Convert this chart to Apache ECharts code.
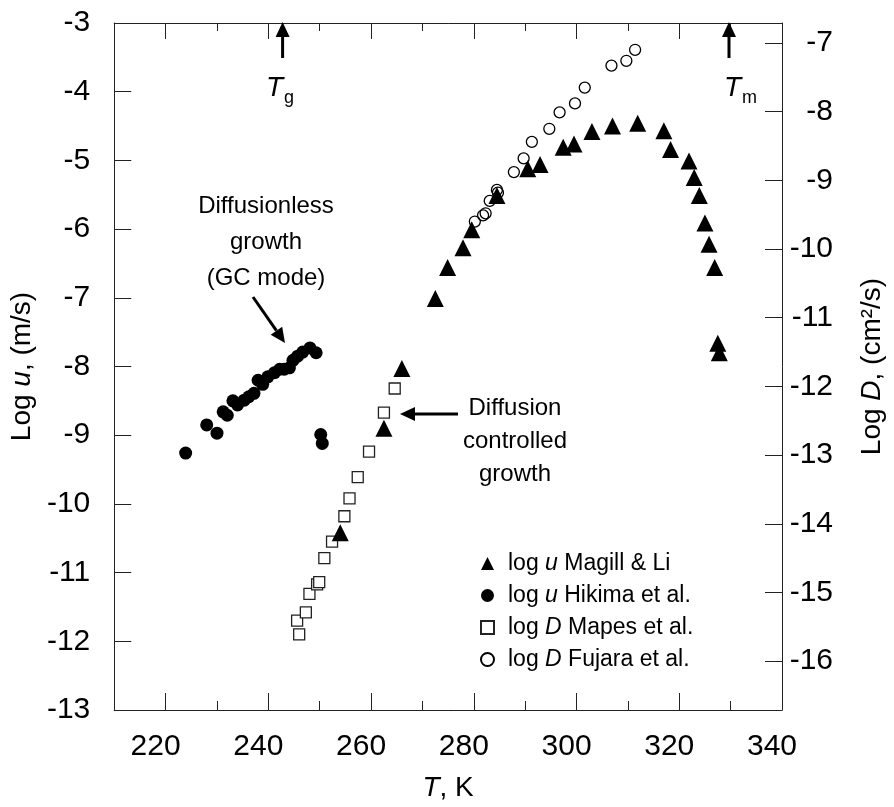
<!DOCTYPE html>
<html>
<head>
<meta charset="utf-8">
<script src="https://cdn.jsdelivr.net/npm/echarts@6/dist/echarts.min.js"></script>
<style>
  html, body { margin: 0; padding: 0; background: #fff; }
  #chart { width: 894px; height: 807px; }
</style>
</head>
<body>
<div id="chart"></div>
<script>
// log u (m/s) – Magill & Li
const magillT = [254.0, 262.5, 266.0, 272.5, 274.9, 277.9, 279.6, 284.5, 290.5, 292.9, 297.4, 299.5, 303.0, 307.0, 311.9, 317.0, 318.3, 321.9, 322.9, 323.9, 325.0, 325.8, 326.9, 327.5, 327.8]
const magillU = [-10.42, -8.90, -8.03, -7.01, -6.56, -6.27, -6.01, -5.51, -5.12, -5.06, -4.81, -4.76, -4.58, -4.50, -4.46, -4.57, -4.84, -5.01, -5.25, -5.51, -5.91, -6.22, -6.56, -7.66, -7.80]

// log u (m/s) – Hikima et al.
const hikimaT = [223.9, 228.0, 230.0, 231.2, 232.0, 233.1, 234.0, 235.3, 236.2, 237.2, 238.0, 238.9, 239.9, 241.2, 242.2, 243.1, 244.1, 244.8, 245.7, 246.7, 248.1, 249.3, 250.2, 250.5]
const hikimaU = [-9.26, -8.85, -8.97, -8.66, -8.71, -8.50, -8.56, -8.49, -8.44, -8.39, -8.20, -8.26, -8.15, -8.09, -8.04, -8.04, -8.02, -7.91, -7.85, -7.79, -7.73, -7.80, -8.99, -9.12]

// log D (cm2/s) – Mapes et al.
const mapesT = [245.6, 246.0, 247.3, 248.0, 249.5, 249.9, 250.9, 252.4, 254.8, 255.8, 257.4, 259.6, 262.5, 264.6]
const mapesD = [-15.41, -15.61, -15.29, -15.02, -14.88, -14.85, -14.50, -14.26, -13.89, -13.63, -13.32, -12.95, -12.38, -12.03]

// log D (cm2/s) – Fujara et al.
const fujaraT = [280.2, 281.8, 282.3, 283.1, 284.5, 284.7, 287.8, 289.7, 291.3, 294.7, 296.7, 299.7, 301.6, 306.8, 309.7, 311.4]
const fujaraD = [-9.60, -9.51, -9.48, -9.30, -9.14, -9.18, -8.88, -8.68, -8.44, -8.25, -8.01, -7.88, -7.65, -7.33, -7.26, -7.10]

// axis ticks
const xLabels = [220, 240, 260, 280, 300, 320, 340]
const xMinorTicks = [230, 250, 270, 290, 310, 330]
const uTicks = [-13, -12, -11, -10, -9, -8, -7, -6, -5, -4, -3]
const dTicks = [-16, -15, -14, -13, -12, -11, -10, -9, -8, -7]

const legendNames = ['Magill & Li', 'Hikima et al.', 'Mapes et al.', 'Fujara et al.']
const legendVar = ['u', 'u', 'D', 'D']

const font = '"Liberation Sans", Arial, sans-serif'
const ink = '#000'
const frame = '#222'

const pairs = (xs, ys) => xs.map((x, i) => [x, ys[i]])

const chart = echarts.init(document.getElementById('chart'))

// x axes: one with long ticks + labels, one with short ticks (bottom and top)
const xAxisBase = {
  type: 'value',
  min: 210,
  max: 340,
  splitLine: { show: false },
  axisLine: { show: false }
}
const xAxes = [
  {
    ...xAxisBase,
    position: 'bottom',
    axisLine: { show: true, onZero: false, lineStyle: { color: frame, width: 1 } },
    axisTick: { inside: true, length: 17, customValues: xLabels, lineStyle: { color: frame } },
    axisLabel: {
      customValues: xLabels,
      fontSize: 30, fontFamily: font, color: ink,
      margin: 22, padding: [0, 20, 0, 0]
    },
    name: '{i|T}, K',
    nameLocation: 'middle',
    nameGap: 64,
    nameTextStyle: {
      fontSize: 28, fontFamily: font, color: ink,
      rich: { i: { fontSize: 28, fontFamily: font, fontStyle: 'italic', color: ink } }
    }
  },
  {
    ...xAxisBase,
    position: 'bottom',
    axisTick: { inside: true, length: 9, customValues: xMinorTicks, lineStyle: { color: frame } },
    axisLabel: { show: false }
  },
  {
    ...xAxisBase,
    position: 'top',
    axisLine: { show: true, onZero: false, lineStyle: { color: frame, width: 1 } },
    axisTick: { inside: true, length: 16, customValues: xLabels, lineStyle: { color: frame } },
    axisLabel: { show: false }
  },
  {
    ...xAxisBase,
    position: 'top',
    axisTick: { inside: true, length: 8, customValues: xMinorTicks, lineStyle: { color: frame } },
    axisLabel: { show: false }
  }
]

const yAxes = [
  {
    type: 'value',
    position: 'left',
    min: -13,
    max: -3,
    interval: 1,
    splitLine: { show: false },
    axisLine: { show: true, onZero: false, lineStyle: { color: frame, width: 1 } },
    axisTick: { inside: true, length: 17, customValues: uTicks, lineStyle: { color: frame } },
    axisLabel: { customValues: uTicks, fontSize: 30, fontFamily: font, color: ink, margin: 24 },
    name: '{n|Log }{i|u}{n|, (m/s)}',
    nameLocation: 'middle',
    nameRotate: 90,
    nameGap: 68,
    nameTextStyle: {
      fontSize: 28, fontFamily: font, color: ink,
      rich: {
        n: { fontSize: 28, fontFamily: font, color: ink },
        i: { fontSize: 28, fontFamily: font, fontStyle: 'italic', color: ink }
      }
    }
  },
  {
    type: 'value',
    position: 'right',
    min: -16.71,
    max: -6.71,
    splitLine: { show: false },
    axisLine: { show: true, onZero: false, lineStyle: { color: frame, width: 1 } },
    axisTick: { inside: true, length: 17, customValues: dTicks, lineStyle: { color: frame } },
    axisLabel: { customValues: dTicks, fontSize: 30, fontFamily: font, color: ink, margin: 51, align: 'right' },
    name: '{n|Log }{i|D}{n|, (cm²/s)}',
    nameLocation: 'middle',
    nameRotate: 90,
    nameGap: 76,
    nameTextStyle: {
      fontSize: 28, fontFamily: font, color: ink,
      rich: {
        n: { fontSize: 28, fontFamily: font, color: ink },
        i: { fontSize: 28, fontFamily: font, fontStyle: 'italic', color: ink }
      }
    }
  }
]

// arrow = shaft line + solid head, pixel coords
function arrow (x1, y1, x2, y2, head = 15, half = 7) {
  const len = Math.hypot(x2 - x1, y2 - y1)
  const ux = (x2 - x1) / len
  const uy = (y2 - y1) / len
  const bx = x2 - ux * head
  const by = y2 - uy * head
  return [
    { type: 'line', shape: { x1, y1, x2: bx, y2: by }, style: { stroke: ink, lineWidth: 3 }, z: 100 },
    {
      type: 'polygon',
      shape: { points: [[x2, y2], [bx - uy * half, by + ux * half], [bx + uy * half, by - ux * half]] },
      style: { fill: ink },
      z: 100
    }
  ]
}

const txt = (x, y, text, extra = {}) => ({
  type: 'text', x, y, z: 100,
  style: {
    text, fill: ink, font: '24px ' + font,
    align: 'center', verticalAlign: 'middle', ...extra
  }
})

const graphic = [
  txt(266, 242, 'Diffusionless\ngrowth\n(GC mode)', { lineHeight: 36 }),
  ...arrow(253, 297, 285, 343),
  txt(515, 441, 'Diffusion\ncontrolled\ngrowth', { lineHeight: 33 }),
  ...arrow(458, 414, 400, 414),
  // Tg
  ...arrow(282.6, 58, 282.6, 22),
  txt(266, 88, 'T', { font: 'italic 28px ' + font, align: 'left' }),
  txt(284, 98, 'g', { font: '18px ' + font, align: 'left' }),
  // Tm
  ...arrow(729, 58, 729, 22),
  txt(724, 88, 'T', { font: 'italic 28px ' + font, align: 'left' }),
  txt(742, 98, 'm', { font: '18px ' + font, align: 'left' })
]

const option = {
  animation: false,
  backgroundColor: '#fff',
  grid: { left: 112, top: 23, right: 110, bottom: 94, containLabel: false },
  xAxis: xAxes,
  yAxis: yAxes,
  legend: {
    orient: 'vertical',
    left: 475,
    top: 547,
    itemWidth: 13,
    itemHeight: 13,
    itemGap: 9,
    data: legendNames,
    formatter: name => {
      const i = legendNames.indexOf(name)
      return '{n|log }{i|' + legendVar[i] + '}{n| ' + name + '}'
    },
    textStyle: {
      fontSize: 23, fontFamily: font, color: ink, padding: [0, 0, 0, 9],
      rich: {
        n: { fontSize: 23, fontFamily: font, color: ink },
        i: { fontSize: 23, fontFamily: font, fontStyle: 'italic', color: ink }
      }
    }
  },
  graphic,
  series: [
    {
      name: 'Mapes et al.',
      type: 'scatter',
      xAxisIndex: 0,
      yAxisIndex: 1,
      symbol: 'rect',
      symbolSize: 11,
      itemStyle: { color: '#fff', borderColor: '#222', borderWidth: 1.3, opacity: 1 },
      data: pairs(mapesT, mapesD),
      z: 2
    },
    {
      name: 'Magill & Li',
      type: 'scatter',
      xAxisIndex: 0,
      yAxisIndex: 0,
      symbol: 'triangle',
      symbolSize: 17,
      itemStyle: { color: '#000', opacity: 1 },
      data: pairs(magillT, magillU),
      z: 3
    },
    {
      name: 'Hikima et al.',
      type: 'scatter',
      xAxisIndex: 0,
      yAxisIndex: 0,
      symbol: 'circle',
      symbolSize: 13,
      itemStyle: { color: '#000', opacity: 1 },
      data: pairs(hikimaT, hikimaU),
      z: 3
    },
    {
      name: 'Fujara et al.',
      type: 'scatter',
      xAxisIndex: 0,
      yAxisIndex: 1,
      symbol: 'circle',
      symbolSize: 11,
      itemStyle: { color: 'rgba(255,255,255,0)', borderColor: '#000', borderWidth: 1.3, opacity: 1 },
      data: pairs(fujaraT, fujaraD),
      z: 4
    }
  ]
}

chart.setOption(option)
</script>
</body>
</html>
